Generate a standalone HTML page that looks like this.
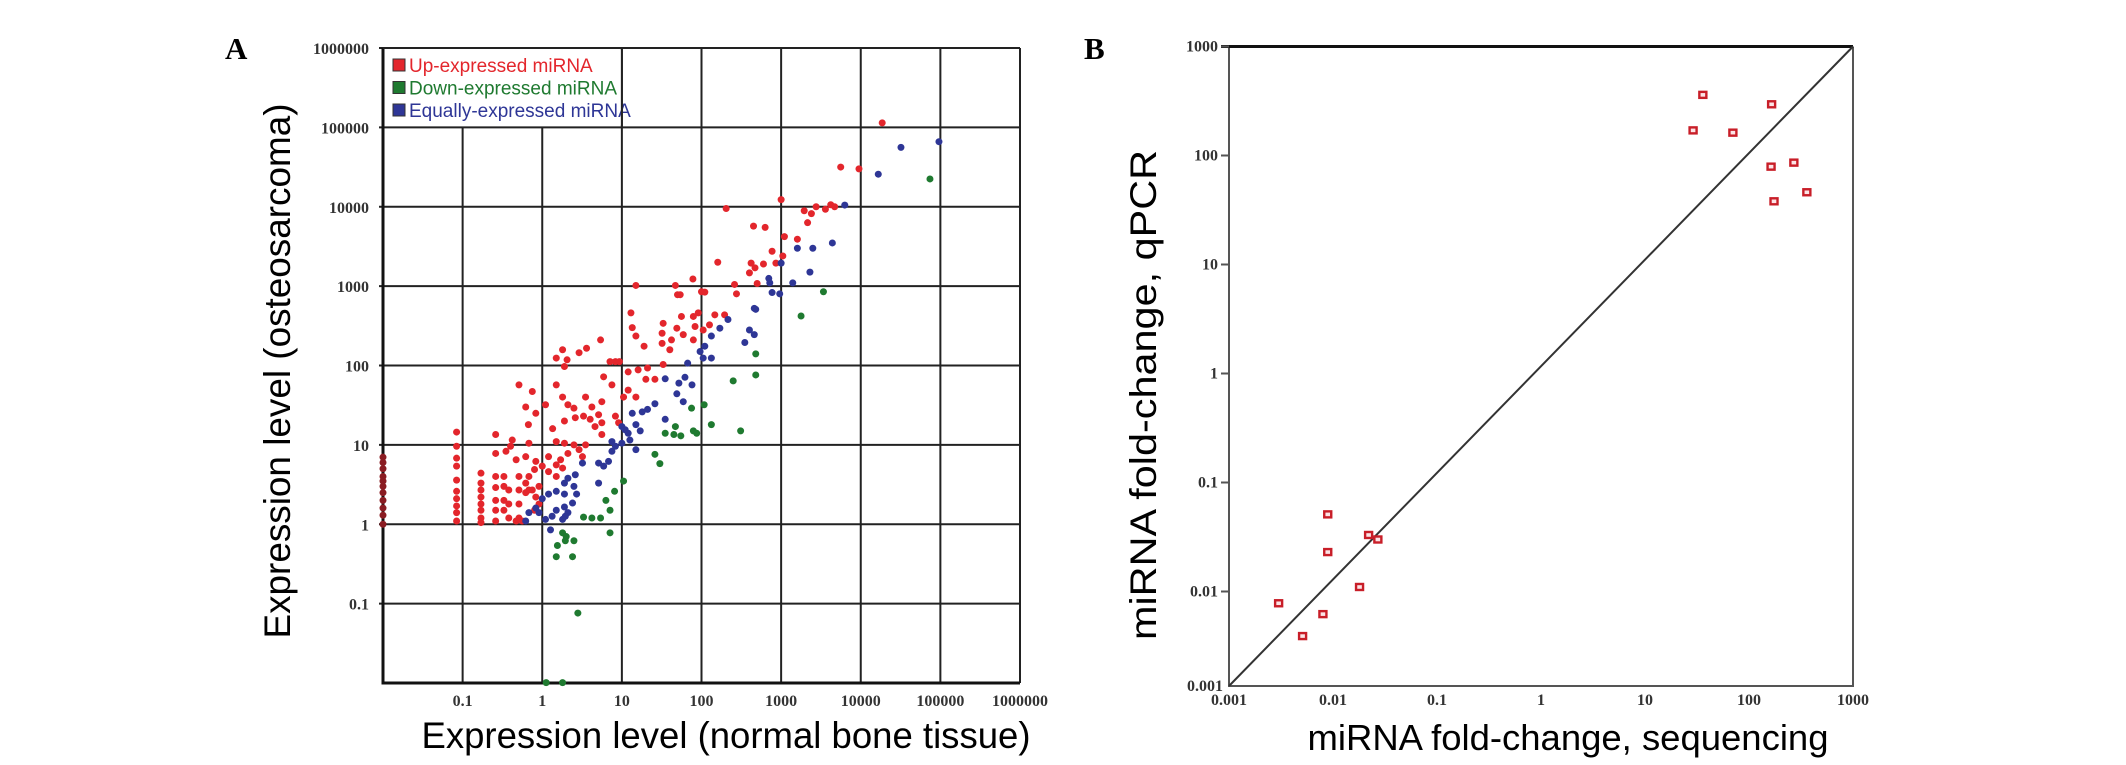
<!DOCTYPE html>
<html><head><meta charset="utf-8"><style>
html,body{margin:0;padding:0;background:#fff;}
svg{display:block;}
.tick{font-family:"Liberation Serif",serif;font-weight:bold;font-size:16px;fill:#333;}
.title{font-family:"Liberation Sans",sans-serif;fill:#000;}
.panel{font-family:"Liberation Serif",serif;font-weight:bold;font-size:31px;fill:#000;}
.leg{font-family:"Liberation Sans",sans-serif;font-size:19px;}
</style></head><body>
<svg id="fig" width="2126" height="765" viewBox="0 0 2126 765" xmlns="http://www.w3.org/2000/svg">
<rect width="2126" height="765" fill="#fff"/>
<g id="gA"></g>
<g id="gB"></g>
<text class="panel" x="225" y="59">A</text>
<text class="panel" x="1084" y="59">B</text>
<text class="title" x="726" y="748" font-size="37" text-anchor="middle" textLength="609" lengthAdjust="spacingAndGlyphs">Expression level (normal bone tissue)</text>
<text class="title" transform="translate(290,371) rotate(-90)" font-size="37" text-anchor="middle" textLength="535" lengthAdjust="spacingAndGlyphs">Expression level (osteosarcoma)</text>
<text class="title" x="1568" y="750" font-size="36" text-anchor="middle" textLength="521" lengthAdjust="spacingAndGlyphs">miRNA fold-change, sequencing</text>
<text class="title" transform="translate(1156,395) rotate(-90)" font-size="37" text-anchor="middle" textLength="490" lengthAdjust="spacingAndGlyphs">miRNA fold-change, qPCR</text>
</svg>
<script>
// ---------- Panel A data ----------
const aTickLabels = ["0.1","1","10","100","1000","10000","100000","1000000"];
const aTickValues = [0.1,1,10,100,1000,10000,100000,1000000];
const upX = [50,100,275,13,13.5,15,19,33,32,32,40,42,49,56,59,79,83,79,91,105,126,147,195,5.4,3.6,2.9,1.8,1.5,1.9,2.05,7.1,8.3,9.3,12,16,21,26,33,20,5.9,7.5,12,15,10.5,0.51,0.75,0.62,0.83,1.1,1.5,1.8,2.1,2.5,3.5,4.2,5.6,2.6,3.3,4,4.6,5.6,5.6,8.3,9.1,5.1,0.67,1.35,1.9,0.084,0.26,0.42,0.68,0.40,1.5,1.9,2.5,3.5,0.26,0.35,0.47,0.62,0.83,1.2,1.7,2.1,2.9,3.2,1.5,1.2,1.0,1.8,0.8,0.68,0.62,0.75,0.91,0.62,1.5,
0.084,0.084,0.084,0.084,0.084,0.084,0.084,0.084,0.084,0.17,0.17,0.17,0.17,0.17,0.17,0.17,0.17,0.26,0.26,0.26,0.26,0.26,0.33,0.33,0.33,0.33,0.38,0.38,0.38,0.51,0.51,0.51,0.51,0.83,0.91,0.8,0.47,0.56,0.68,
18600,5600,9500,1000,204,1950,2400,2750,3600,4200,4700,2150,450,630,1100,1600,770,160,420,470,600,860,1050,400,260,500,110,15,47,78,54];
const upY = [780,850,800,460,300,235,175,340,255,190,158,210,295,415,245,415,310,210,460,280,325,435,435,210,165,145,158,124,97,118,112,112,112,83,88,93,67,103,67,72,57,49,40,40,57,47,30,25,32,57,40,32,29,40,30,35,22,23,21,17,19,13.5,23,19,24,18,16,20,14.5,13.5,11.5,10.5,9.6,11,10.5,10,10,7.8,8.3,6.5,7.1,6.2,7.1,6.5,7.8,8.7,7.1,5.6,4.6,5.4,5.1,4.9,4.0,3.3,2.7,3.0,2.5,4.0,
9.6,6.8,5.4,3.6,2.6,2.1,1.7,1.4,1.1,4.4,3.3,2.7,2.2,1.8,1.5,1.2,1.05,4.0,2.9,2.0,1.5,1.1,4.0,3.0,2.0,1.5,2.7,1.8,1.2,4.0,2.7,1.8,1.2,2.2,1.8,1.5,1.1,1.1,2.7,
114000,31600,30000,12300,9500,8900,8200,10000,9300,10600,10000,6300,5700,5500,4200,3900,2750,2000,1950,1700,1900,1950,2400,1470,1050,1080,840,1020,1020,1230,780];
const axisColX = [0.01,0.01,0.01,0.01,0.01,0.01,0.01,0.01,0.01,0.01,0.01];
const axisColY = [1.0,1.3,1.6,2,2.5,3,3.5,4,5,6,7];
const eqX = [460,215,170,133,400,460,350,110,96,105,133,67,35,52,62,76,49,59,35,26,21,18,13.5,10,11,15,17,12,7.5,8.3,10,12.6,15,7.5,6.8,5.1,5.9,3.2,5.1,2.6,2.1,1.9,2.5,1.5,1.9,2.7,1.2,1.0,0.83,0.91,0.68,1.1,1.33,1.5,1.9,2.1,1.8,1.95,0.62,1.27,2.4,
16600,32000,96000,6300,1600,2500,4400,1000,700,720,1400,2300,770,960,480];
const eqY = [525,380,295,235,280,245,195,175,150,124,124,107,68,60,71,57,44,35,21,33,28,26,25,17,15.5,18,15,14,11,9.6,10.5,11.5,8.7,8.3,6.2,5.9,5.4,5.9,3.3,4.2,3.8,3.3,3.0,2.6,2.4,2.4,2.4,2.1,1.6,1.4,1.4,1.15,1.26,1.5,1.65,1.4,1.15,1.26,1.1,0.85,1.85,
25700,56000,66000,10500,3000,3000,3500,1950,1250,1100,1100,1500,830,800,510];
const downX = [480,480,250,108,75,133,310,35,47,45,55,79,87,26,30,10.5,8.1,6.3,7.1,3.3,4.2,5.4,7.1,1.8,2.5,1.95,1.55,74000,3400,1780,2.8,1.12,1.8,1.5,2.4,2.0];
const downY = [140,76,64,32,29,18,15,14,17,13.5,13,15,14,7.6,5.8,3.5,2.6,2.0,1.5,1.23,1.2,1.2,0.78,0.78,0.62,0.62,0.54,22400,850,420,0.076,0.0101,0.0101,0.39,0.39,0.7];

// ---------- Panel B data ----------
const bXTickLabels = ["0.001","0.01","0.1","1","10","100","1000"];
const bXTickValues = [0.001,0.01,0.1,1,10,100,1000];
const bYTickLabels = ["1000","100","10","1","0.1","0.01"];
const bYTickValues = [1000,100,10,1,0.1,0.01];
const seqFC = [36,29,70,165,163,270,174,360,0.0089,0.0089,0.022,0.027,0.018,0.0030,0.0080,0.0051];
const qpcrFC = [360,170,162,295,79,86,38,46,0.051,0.023,0.033,0.030,0.011,0.0078,0.0062,0.0039];

const NS = "http://www.w3.org/2000/svg";
function mk(tag, attrs, parent){const e=document.createElementNS(NS,tag);for(const k in attrs)e.setAttribute(k,attrs[k]);parent.appendChild(e);return e;}

// Panel A axes
const AX0=383, AX1=1020, AY0=683, AY1=48;
function xA(v){return AX0+(Math.log10(v)+2)*(AX1-AX0)/8;}
function yA(v){return AY0-(Math.log10(v)+2)*(AY0-AY1)/8;}
const gA=document.getElementById('gA');
for(let i=0;i<aTickValues.length;i++){
  const v=aTickValues[i];
  const yy=yA(v), xx=xA(v);
  const top = (v<=1 && v>=0.1) ? 127 : AY1;
  const vl=mk('line',{x1:xx,x2:xx,y1:top,y2:AY0,stroke:'#222','stroke-width':2},gA);
  
  
  const hl=mk('line',{x1:AX0-4,x2:AX1,y1:yy,y2:yy,stroke:'#222','stroke-width':2},gA);
  
  
  const tx=mk('text',{x:xx,y:706,'text-anchor':'middle','class':'tick'},gA);
  tx.textContent=aTickLabels[i];
  
  
  const ty=mk('text',{x:369,y:yy+6,'text-anchor':'end','class':'tick'},gA);
  ty.textContent=aTickLabels[i];
  
  
}
const axA=mk('path',{d:`M${AX0} ${AY1} V${AY0} H${AX1}`,fill:'none',stroke:'#111','stroke-width':3},gA);



function dots(xs,ys,color,name){
  for(let i=0;i<xs.length;i++){
    const c=mk('circle',{cx:xA(xs[i]),cy:yA(ys[i]),r:3.5,fill:color},gA);
    
    
  }
}
dots(upX,upY,'#e3262c','up-expressed-point');
dots(axisColX,axisColY,'#8a1c22','up-expressed-point');
dots(eqX,eqY,'#2e3696','equally-expressed-point');
dots(downX,downY,'#1f7a30','down-expressed-point');

// legend
const legBg=mk('rect',{x:385,y:50,width:236,height:75,fill:'#fff'},gA);


const legNames=["Up-expressed miRNA","Down-expressed miRNA","Equally-expressed miRNA"];
const legColors=['#e3262c','#1f7a30','#2e3696'];
for(let i=0;i<3;i++){
  const yy=65+i*22.5;
  const s=mk('rect',{x:393,y:yy-6,width:12,height:12,fill:legColors[i],stroke:'#333','stroke-width':1},gA);
  
  
  const t=mk('text',{x:409,y:yy+7,'class':'leg',fill:legColors[i]},gA);
  t.textContent=legNames[i];
  
  
}
const g10=mk('line',{x1:xA(10),x2:xA(10),y1:AY1,y2:127,stroke:'#222','stroke-width':2},gA);


const topA=mk('line',{x1:AX0,x2:AX1,y1:AY1,y2:AY1,stroke:'#222','stroke-width':2},gA);



// Panel B
const BX0=1229, BDX=104, BY0=686, BYTOP=46.5, BDY=109;
function xB(v){return BX0+(Math.log10(v)+3)*BDX;}
function yB(v){return BYTOP+(3-Math.log10(v))*BDY;}
const BX1=xB(1000);
const gB=document.getElementById('gB');
const frame=mk('path',{d:`M${BX0} ${BYTOP} V${BY0} H${BX1} V${BYTOP}`,fill:'none',stroke:'#555','stroke-width':2},gB);


const topB=mk('line',{x1:BX0-8,x2:BX1,y1:BYTOP,y2:BYTOP,stroke:'#111','stroke-width':3},gB);


const diag=mk('line',{x1:BX0,y1:BY0,x2:BX1,y2:BYTOP,stroke:'#333','stroke-width':2},gB);


for(let i=0;i<bYTickValues.length;i++){
  const yy=yB(bYTickValues[i]);
  const tk=mk('line',{x1:BX0-8,x2:BX0,y1:yy,y2:yy,stroke:'#555','stroke-width':2},gB);
  
  
  const t=mk('text',{x:BX0-11,y:yy+5,'text-anchor':'end','class':'tick'},gB);
  t.setAttribute('font-size','15');
  t.textContent=bYTickLabels[i];
  
  
}
const t001=mk('text',{x:BX0-6,y:BY0+5,'text-anchor':'end','class':'tick'},gB);
t001.setAttribute('font-size','15');
t001.textContent="0.001";


for(let i=0;i<bXTickValues.length;i++){
  const xx=xB(bXTickValues[i]);
  const t=mk('text',{x:xx,y:BY0+19,'text-anchor':'middle','class':'tick'},gB);
  t.setAttribute('font-size','15');
  t.textContent=bXTickLabels[i];
  
  
}
for(let i=0;i<seqFC.length;i++){
  const cx=xB(seqFC[i]), cy=yB(qpcrFC[i]);
  const m=mk('rect',{x:cx-3.5,y:cy-3,width:7,height:6,fill:'#fce4e6',stroke:'#c81e28','stroke-width':2.4},gB);
  
  
}
</script>
</body></html>
